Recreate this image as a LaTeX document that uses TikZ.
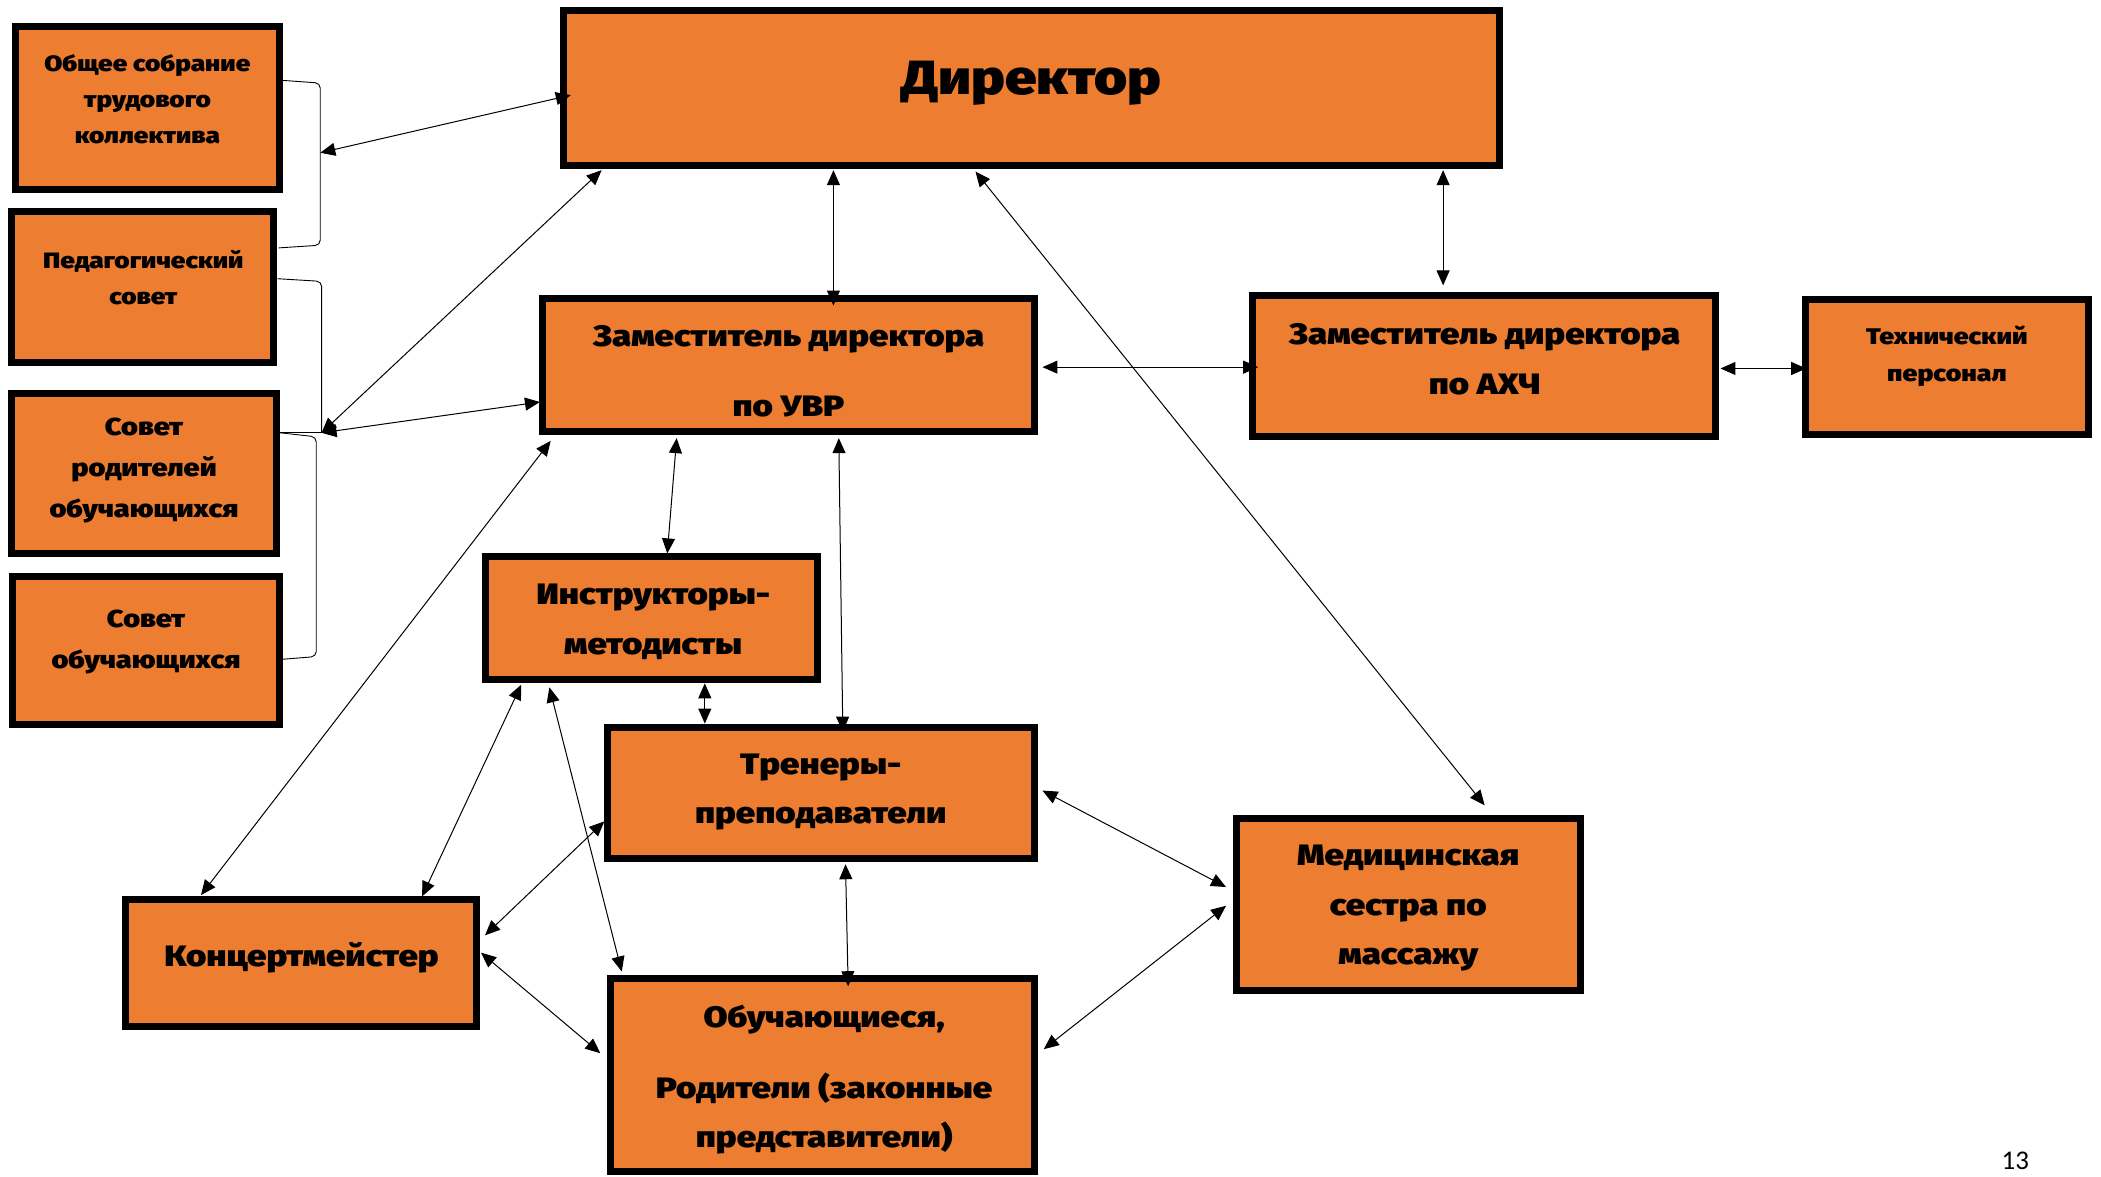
\documentclass[tikz,border=0pt]{standalone}
\usepackage{fontspec}
\usetikzlibrary{arrows.meta,calc}
\newfontfamily\hv{Fira Sans Black}[FakeStretch=1.18]
\newfontfamily\pgnum{Carlito}
\definecolor{orangeC}{HTML}{ED7D31}
\newcommand\mybox[5]{\node[box, minimum width={(#4-#2)*1.34pt-7pt}, minimum height={(#5-#3)*1.34pt-7pt}] (#1) at ({(#2+#4)/2},{(#3+#5)/2}) {};}
\tikzset{
  box/.style={draw=black, fill=orangeC, line width=7pt, inner sep=0pt},
  txt/.style={align=center, inner sep=0pt, text=black},
  arr/.style={{Triangle[length=15pt,width=13pt]}-{Triangle[length=15pt,width=13pt]}, line width=1pt},
  brk/.style={line width=0.9pt, rounded corners=5pt},
  fsmall/.style={font={\hv\fontsize{22.2}{36}\selectfont}},
  fmid/.style={font={\hv\fontsize{24.5}{41}\selectfont}},
  fmain/.style={font={\hv\fontsize{29.5}{49.5}\selectfont}},
}
\begin{document}
\begin{tikzpicture}[x=1.34pt,y=-1.34pt]
\useasboundingbox (0,0) rectangle (1568,878);
% boxes
\mybox{obs}{9}{17}{211}{144}
\mybox{ped}{6}{155}{207}{273}
\mybox{sr}{6}{291}{209}{416}
\mybox{so}{7}{428}{211}{543}
\mybox{dir}{418}{5}{1122}{126}
\mybox{uvr}{402}{220}{775}{325}
\mybox{axc}{932}{218}{1283}{328}
\mybox{tech}{1345}{221}{1561}{327}
\mybox{instr}{360}{413}{613}{510}
\mybox{tren}{451}{540}{775}{643}
\mybox{med}{920}{608}{1182}{742}
\mybox{konc}{91}{669}{358}{769}
\mybox{obuch}{453}{728}{775}{877}
% texts
\node[txt,fsmall] (obs-t) at (110,74) {Общее собрание\\трудового\\коллектива};
\node[txt,fsmall] (ped-t) at (107,207.5) {Педагогический\\совет};
\node[txt,fmid] (sr-t) at (107.5,351.5) {Совет\\родителей\\обучающихся};
\node[txt,fmid] (so-t) at (109,479) {Совет\\обучающихся};
\node[txt,font={\hv\fontsize{48}{56}\selectfont}] (dir-t) at (770,62) {Директор};
\node[txt,font={\hv\fontsize{29.5}{70}\selectfont}] (uvr-t) at (588.5,277) {Заместитель директора\\по УВР};
\node[txt,fmain] (axc-t) at (1108,268) {Заместитель директора\\по АХЧ};
\node[txt,font={\hv\fontsize{22.6}{37.5}\selectfont}] (tech-t) at (1453,266) {Технический\\персонал};
\node[txt,fmain] (instr-t) at (487.5,464) {Инструкторы-\\методисты};
\node[txt,fmain] (tren-t) at (612.5,591) {Тренеры-\\преподаватели};
\node[txt,fmain] (med-t) at (1051,678) {Медицинская\\сестра по\\массажу};
\node[txt,fmain] (konc-t) at (225,715) {Концертмейстер};
\node[txt,fmain] (obuch-t) at (615,806) {Обучающиеся,\\[21pt]Родители (законные\\представители)};
\node[txt,font={\pgnum\fontsize{27}{30}\selectfont}] (pg) at (1504,866) {13};
% brackets
\coordinate (J1) at (239,114);
\coordinate (J2) at (240,323);
\draw[brk] ($(obs.north east)+(0,43)$) -- (239,62) -- (239,183) -- ($(ped.north east)+(1,30)$);
\draw[brk] ($(ped.north east)+(0,53)$) -- (240,210) -- (J2);
\draw[line width=0.9pt] ($(sr.north east)+(0,32)$) -- (J2);
\draw[brk] ($(sr.north east)+(0,32)$) -- (236,326) -- (236,490) -- ($(so.north east)+(0,64)$);
% connectors
\draw[arr] (J1) -- ($(dir.north west)+(8,66)$);
\draw[arr] ($(dir.south west)+(31,1)$) -- (J2);
\draw[arr] (J2) -- ($(uvr.north west)+(1,80)$);
\draw[arr] ($(dir.south west)+(204,1)$) -- ($(uvr.north west)+(220,8)$);
\draw[arr] ($(dir.south west)+(659,1)$) -- ($(axc.north west)+(145,-5)$);
\draw[arr] ($(dir.south west)+(310,2)$) -- ($(med.north west)+(188,-7)$);
\draw[arr] ($(uvr.east)+(3,1.5)$) -- ($(axc.west)+(7,1)$);
\draw[arr] ($(axc.east)+(1,2)$) -- ($(tech.west)+(3,1)$);
\draw[arr] ($(uvr.south west)+(103,2)$) -- ($(instr.north west)+(138,0)$);
\draw[arr] ($(uvr.south west)+(224,2)$) -- ($(tren.north west)+(178,6)$);
\draw[arr] ($(uvr.south west)+(9,4)$) -- ($(konc.north west)+(59,-1)$);
\draw[arr] ($(instr.south west)+(166,0)$) -- ($(tren.north west)+(75,0)$);
\draw[arr] ($(instr.south west)+(29,1)$) -- ($(konc.north west)+(224,0)$);
\draw[arr] ($(instr.south west)+(50,3)$) -- ($(obuch.north west)+(11,-3)$);
\draw[arr] ($(tren.north west)+(0,73)$) -- ($(konc.north east)+(4,29)$);
\draw[arr] ($(konc.north east)+(1,42)$) -- ($(obuch.north west)+(-5,58)$);
\draw[arr] ($(tren.south west)+(180,2)$) -- ($(obuch.north west)+(180,8)$);
\draw[arr] ($(tren.north east)+(3,50)$) -- ($(med.north west)+(-5,54)$);
\draw[arr] ($(med.north west)+(-5,68)$) -- ($(obuch.north east)+(4,55)$);
\end{tikzpicture}
\end{document}
